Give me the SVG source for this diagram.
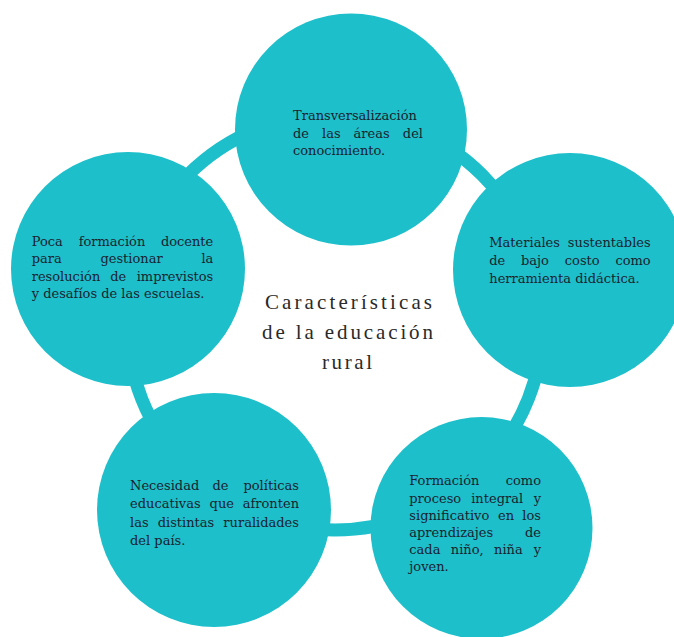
<svg xmlns="http://www.w3.org/2000/svg" width="674" height="637" viewBox="0 0 674 637">
<style>
.bg{fill:#ffffff}
.node{fill:#1dbfca}
.ring{fill:none;stroke:#1dbfca;stroke-width:13}
.t{font-family:"DejaVu Serif","Liberation Serif",serif;font-size:13px;fill:#1b2230}
.e{text-anchor:end}
.title{font-family:"Liberation Serif","Times New Roman",serif;font-size:21px;fill:#2a2a2a;text-anchor:middle}
</style>
<rect class="bg" x="0" y="0" width="674" height="637"/>
<g id="connectors">
<circle class="ring" cx="335" cy="322" r="208"/>
</g>
<g id="node-top">
<circle class="node" cx="351" cy="129.5" r="116"/>
<text class="t" x="293" y="120">Transversalización</text>
<text class="t" y="137.5"><tspan x="293">de</tspan><tspan x="322">las</tspan><tspan x="353.6">áreas</tspan><tspan class="e" x="423">del</tspan></text>
<text class="t" x="293" y="155">conocimiento.</text>
</g>
<g id="node-left">
<circle class="node" cx="128" cy="269" r="117"/>
<text class="t" y="245.7"><tspan x="31.7">Poca</tspan><tspan x="78.7">formación</tspan><tspan class="e" x="213.3">docente</tspan></text>
<text class="t" y="263"><tspan x="31.7">para</tspan><tspan x="100.4">gestionar</tspan><tspan class="e" x="213.3">la</tspan></text>
<text class="t" y="280.5"><tspan x="31.7">resolución</tspan><tspan x="110.2">de</tspan><tspan class="e" x="213.3">imprevistos</tspan></text>
<text class="t" x="31.7" y="298">y desafíos de las escuelas.</text>
</g>
<g id="node-right">
<circle class="node" cx="570" cy="270" r="117"/>
<text class="t" y="247"><tspan x="489.3">Materiales</tspan><tspan class="e" x="650.7">sustentables</tspan></text>
<text class="t" y="265"><tspan x="489.3">de</tspan><tspan x="521">bajo</tspan><tspan x="564.8">costo</tspan><tspan class="e" x="650.7">como</tspan></text>
<text class="t" x="489.3" y="283">herramienta didáctica.</text>
</g>
<g id="node-bottom-left">
<circle class="node" cx="214" cy="510" r="117"/>
<text class="t" y="490"><tspan x="130">Necesidad</tspan><tspan x="212.5">de</tspan><tspan class="e" x="299">políticas</tspan></text>
<text class="t" y="508"><tspan x="130">educativas</tspan><tspan x="209.6">que</tspan><tspan class="e" x="299">afronten</tspan></text>
<text class="t" y="526.5"><tspan x="130">las</tspan><tspan x="157.7">distintas</tspan><tspan class="e" x="299">ruralidades</tspan></text>
<text class="t" x="130" y="545">del país.</text>
</g>
<g id="node-bottom-right">
<circle class="node" cx="481.5" cy="528" r="111"/>
<text class="t" y="485"><tspan x="409.3">Formación</tspan><tspan class="e" x="541">como</tspan></text>
<text class="t" y="502.5"><tspan x="409.3">proceso</tspan><tspan x="471.2">integral</tspan><tspan class="e" x="541">y</tspan></text>
<text class="t" y="520"><tspan x="409.3">significativo</tspan><tspan x="498">en</tspan><tspan class="e" x="541">los</tspan></text>
<text class="t" y="537"><tspan x="409.3">aprendizajes</tspan><tspan class="e" x="541">de</tspan></text>
<text class="t" y="554"><tspan x="409.3">cada</tspan><tspan x="450.8">niño,</tspan><tspan x="494.1">niña</tspan><tspan class="e" x="541">y</tspan></text>
<text class="t" x="409.3" y="571">joven.</text>
</g>
<g id="node-center">
<text class="title" x="348.5" y="309" textLength="167" lengthAdjust="spacing">Características</text>
<text class="title" x="347.5" y="339" textLength="171" lengthAdjust="spacing">de la educación</text>
<text class="title" x="347" y="369" textLength="50" lengthAdjust="spacing">rural</text>
</g>
</svg>
